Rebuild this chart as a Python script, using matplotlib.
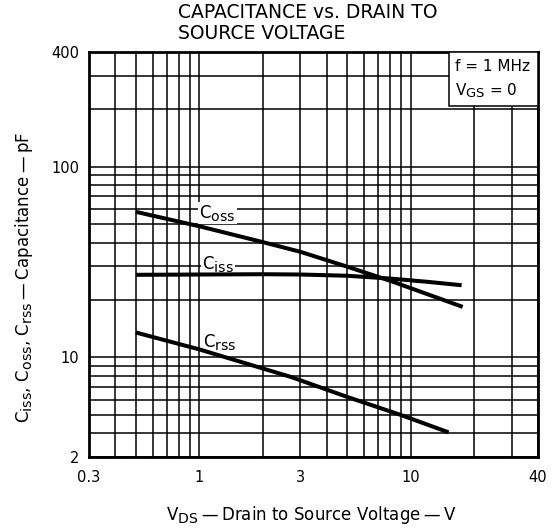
import matplotlib
matplotlib.use("Agg")
import matplotlib.pyplot as plt
from matplotlib.ticker import FixedLocator, NullFormatter
from matplotlib.patches import Rectangle

try:
    import matplotlib._mathtext as _mt
    _mt.SHRINK_FACTOR = 0.85
except Exception:
    pass

plt.rcParams['font.family'] = ['DejaVu Sans']
plt.rcParams['mathtext.fontset'] = 'custom'
plt.rcParams['mathtext.rm'] = 'DejaVu Sans'
plt.rcParams['mathtext.it'] = 'DejaVu Sans'

# ---- data ----
coss_v = [0.5, 1.0, 2.0, 3.0, 5.0, 8.0, 17.6]
coss_c = [58, 48.7, 40.2, 35.8, 29.9, 25.2, 18.4]

ciss_v = [0.5, 1.0, 2.0, 3.0, 5.0, 8.0, 12.0, 17.4]
ciss_c = [27.1, 27.2, 27.3, 27.2, 26.8, 25.9, 24.9, 23.9]

crss_v = [0.5, 1.0, 2.7, 5.0, 8.9, 15.1]
crss_c = [13.5, 11.0, 7.9, 6.2, 5.0, 4.04]

x_ticks = [0.3, 1, 3, 10, 40]
x_tick_labels = ['0.3', '1', '3', '10', '40']
y_ticks = [3, 10, 100, 400]
y_tick_labels = ['2', '10', '100', '400']
x_minor = [0.4, 0.5, 0.6, 0.7, 0.8, 0.9, 2, 4, 5, 6, 7, 8, 9, 20, 30]
y_minor = [4, 5, 6, 7, 8, 9, 20, 30, 40, 50, 60, 70, 80, 90, 200, 300]

# ---- figure ----
W, H = 554, 528
fig = plt.figure(figsize=(W / 100, H / 100), dpi=100)
ax = fig.add_axes([89 / W, 1 - 457 / H, (538 - 89) / W, (457 - 52) / H])
ax.set_xscale('log')
ax.set_yscale('log')
ax.set_xlim(0.3, 40)
ax.set_ylim(3, 400)

ax.xaxis.set_major_locator(FixedLocator(x_ticks))
ax.set_xticklabels(x_tick_labels)
ax.yaxis.set_major_locator(FixedLocator(y_ticks))
ax.set_yticklabels(y_tick_labels)
ax.xaxis.set_minor_locator(FixedLocator(x_minor))
ax.yaxis.set_minor_locator(FixedLocator(y_minor))
ax.xaxis.set_minor_formatter(NullFormatter())
ax.yaxis.set_minor_formatter(NullFormatter())
ax.tick_params(which='both', length=0, labelsize=10.5, colors='black')
ax.tick_params(axis='x', pad=9)
ax.tick_params(axis='y', pad=7)

ax.grid(True, which='both', color='black', linewidth=1.1)
ax.set_axisbelow(True)
for s in ax.spines.values():
    s.set_linewidth(2.0)
    s.set_color('black')

lw = 2.9
ax.plot(coss_v, coss_c, color='black', lw=lw, solid_capstyle='butt', zorder=3)
ax.plot(ciss_v, ciss_c, color='black', lw=lw, solid_capstyle='butt', zorder=3)
ax.plot(crss_v, crss_c, color='black', lw=lw, solid_capstyle='butt', zorder=3)

lab_kw = dict(fontsize=12, va='center', ha='left', zorder=2.5,
              bbox=dict(facecolor='white', edgecolor='none', pad=0.8))
ax.text(1.0, 57.0, r'$\mathregular{C_{oss}}$', **lab_kw)
ax.text(1.03, 31.0, r'$\mathregular{C_{iss}}$', **lab_kw)
ax.text(1.04, 12.0, r'$\mathregular{C_{rss}}$', **lab_kw)

# condition box
ax.add_patch(Rectangle((0.802, 0.867), 0.198, 0.133, transform=ax.transAxes,
                       facecolor='white', edgecolor='black', lw=1.1, zorder=4.5))
ax.text(0.815, 0.983, 'f = 1 MHz\n' + r'$\mathregular{V_{GS}}$ = 0',
        transform=ax.transAxes, fontsize=11, ha='left', va='top',
        linespacing=1.5, zorder=5)

fig.text(178 / W, 1 - 23 / H, 'CAPACITANCE vs. DRAIN TO\nSOURCE VOLTAGE',
         fontsize=13.5, ha='left', va='center', linespacing=1.1)
fig.text(311 / W, 1 - 515 / H,
         r'$\mathregular{V_{DS}}$' + '\u2009—\u2009Drain to Source Voltage\u2009—\u2009V',
         fontsize=12, ha='center', va='center')
fig.text(24 / W, 1 - 277 / H,
         r'$\mathregular{C_{iss}}$, $\mathregular{C_{oss}}$, $\mathregular{C_{rss}}$'
         + '\u2009—\u2009Capacitance\u2009—\u2009pF',
         fontsize=12, ha='center', va='center', rotation=90)

fig.savefig('out.png', dpi=100)
